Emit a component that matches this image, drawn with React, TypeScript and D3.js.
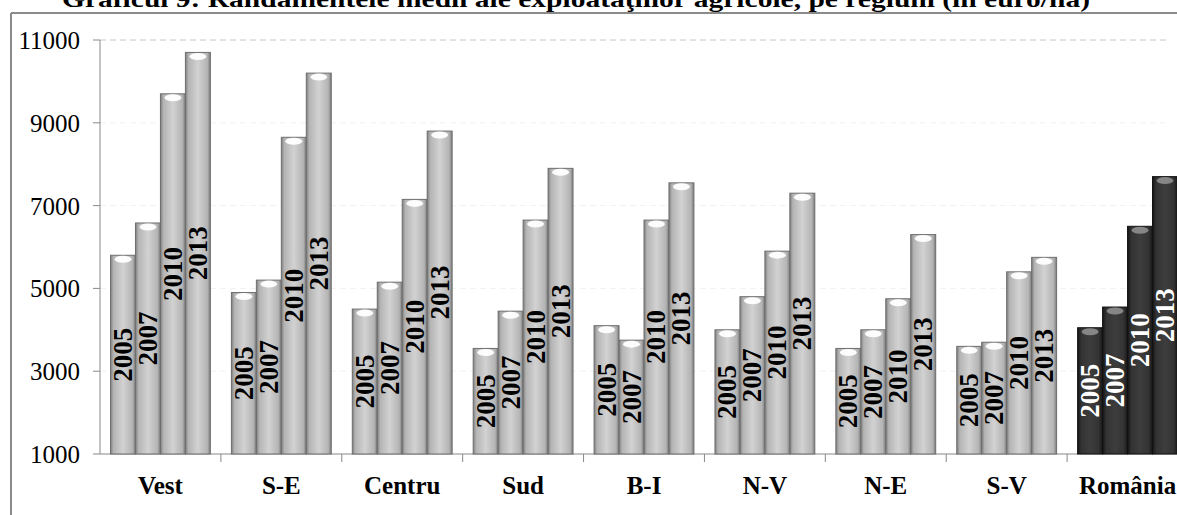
import React from "react";
import * as d3 from "d3";

const title = "Graficul 9: Randamentele medii  ale exploataţiilor agricole, pe regiuni (în euro/ha)";
const regions = ["Vest", "S-E", "Centru", "Sud", "B-I", "N-V", "N-E", "S-V", "România"];
const years = ["2005", "2007", "2010", "2013"];
const v2005 = [5800, 4900, 4500, 3550, 4100, 4000, 3550, 3600, 4050];
const v2007 = [6580, 5200, 5150, 4450, 3750, 4800, 4000, 3700, 4550];
const v2010 = [9700, 8650, 7150, 6650, 6650, 5900, 4750, 5400, 6500];
const v2013 = [10700, 10200, 8800, 7900, 7550, 7300, 6300, 5750, 7700];
const yTicks = [1000, 3000, 5000, 7000, 9000, 11000];

const series = [v2005, v2007, v2010, v2013];

export default function App() {
  const W = 1177, H = 515;
  const y = d3.scaleLinear().domain([1000, 11000]).range([454, 40]);
  const x0 = d3.scaleBand<string>().domain(regions).range([100, 1188]).paddingInner(0.174).paddingOuter(0.087);
  const x1 = d3.scaleBand<string>().domain(years).range([0, x0.bandwidth()]).padding(0);
  const step = x0.step();
  const serif = "Liberation Serif";

  const bars: any[] = [];
  regions.forEach((r, ri) => {
    years.forEach((yr, yi) => {
      const v = series[yi][ri];
      bars.push({ r, yr, v, dark: r === "România" });
    });
  });

  return (
    <svg width={W} height={H} style={{ position: "absolute", left: 0, top: 0, background: "#fff", fontFamily: serif }}>
      <defs>
        <linearGradient id="gLight" x1="0" x2="1" y1="0" y2="0">
          <stop offset="0%" stopColor="#7e7e7e" />
          <stop offset="12%" stopColor="#b4b4b4" />
          <stop offset="50%" stopColor="#d2d2d2" />
          <stop offset="88%" stopColor="#b4b4b4" />
          <stop offset="100%" stopColor="#7a7a7a" />
        </linearGradient>
        <linearGradient id="gDark" x1="0" x2="1" y1="0" y2="0">
          <stop offset="0%" stopColor="#161616" />
          <stop offset="15%" stopColor="#333" />
          <stop offset="50%" stopColor="#3d3d3d" />
          <stop offset="85%" stopColor="#333" />
          <stop offset="100%" stopColor="#161616" />
        </linearGradient>
      </defs>
      {/* title (cut off at top) */}
      <text x={62} y={7} fontWeight="bold" fontSize={24} textLength={1028} lengthAdjust="spacingAndGlyphs" fill="#000">{title}</text>
      {/* outer frame */}
      <line x1={11} x2={11} y1={13} y2={H} stroke="#8a8a8a" strokeWidth={2} />
      <line x1={11} x2={W} y1={13} y2={13} stroke="#8a8a8a" strokeWidth={2} />
      {/* gridlines */}
      {yTicks.slice(1).map(t => (
        <line key={t} x1={100} x2={1167} y1={y(t)} y2={y(t)} stroke={t === 11000 ? "#c8c8c8" : "#f1f1f1"} strokeWidth={1} strokeDasharray="6,4" />
      ))}
      {/* axes */}
      <line x1={100} x2={100} y1={y(11000)} y2={y(1000)} stroke="#888" strokeWidth={1} />
      <line x1={100} x2={W} y1={y(1000)} y2={y(1000)} stroke="#888" strokeWidth={1} />
      {yTicks.map(t => (
        <g key={t}>
          <line x1={93} x2={100} y1={y(t)} y2={y(t)} stroke="#888" />
          <text x={80} y={y(t) + 9} textAnchor="end" fontSize={25} fill="#000">{t}</text>
        </g>
      ))}
      {regions.map((r, i) => (
        <line key={r} x1={100 + step * (i + 1)} x2={100 + step * (i + 1)} y1={y(1000)} y2={y(1000) + 8} stroke="#888" />
      ))}
      {/* bars */}
      {bars.map(b => {
        const bx = (x0(b.r) as number) + (x1(b.yr) as number);
        const bw = x1.bandwidth();
        const top = y(b.v);
        const bottom = y(1000);
        return (
          <g key={b.r + b.yr}>
            <rect x={bx} y={top} width={bw} height={bottom - top} fill={b.dark ? "url(#gDark)" : "url(#gLight)"} stroke={b.dark ? "#111" : "#6e6e6e"} strokeWidth={1} />
            <ellipse cx={bx + bw / 2} cy={top + 4} rx={bw / 2 - 4} ry={3.5} fill={b.dark ? "#8a8a8a" : "#fff"} opacity={0.95} />
            <text transform={`translate(${bx + bw / 2 + 9},${(top + bottom) / 2}) rotate(-90)`} textAnchor="middle" fontWeight="bold" fontSize={27} fill={b.dark ? "#fff" : "#000"}>{b.yr}</text>
          </g>
        );
      })}
      {/* category labels */}
      {regions.map(r => (
        <text key={r} x={(x0(r) as number) + x0.bandwidth() / 2} y={494} textAnchor="middle" fontWeight="bold" fontSize={25} fill="#000">{r}</text>
      ))}
    </svg>
  );
}
